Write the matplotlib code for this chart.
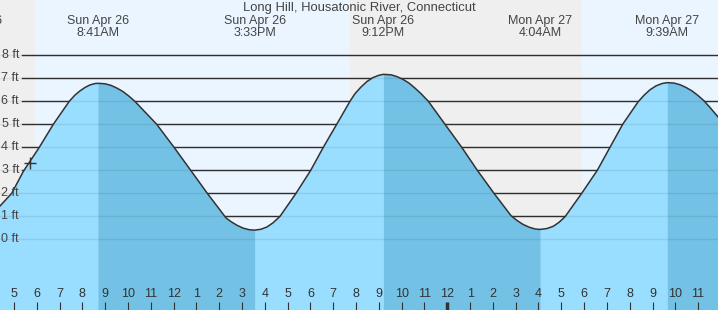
import numpy as np
import matplotlib
matplotlib.use("Agg")
import matplotlib.pyplot as plt

plt.rcParams['font.family'] = ['Liberation Sans', 'DejaVu Sans']

# hours after Sun Apr 26 00:00 and tide height (ft)
hours = [4.385, 4.899, 5.407, 6.109, 6.723, 7.424, 7.674, 7.894, 8.113, 8.332, 8.552,
         8.683, 8.990, 9.253, 9.516, 9.779, 10.043, 10.306, 11.257, 12.016, 12.748,
         13.476, 14.297, 14.516, 14.779, 15.042, 15.305, 15.55, 15.833, 16.096, 16.359,
         16.665, 17.366, 18.011, 18.563, 19.151, 19.734, 19.953, 20.217, 20.480, 20.743,
         21.006, 21.20, 21.532, 21.795, 22.058, 22.322, 22.585, 22.848, 23.168, 23.900,
         24.633, 25.317, 26.049, 26.795, 27.058, 27.321, 27.585, 27.848, 28.067, 28.371,
         28.654, 28.900, 29.163, 29.895, 30.579, 31.136, 31.693, 32.364, 32.627, 32.891,
         33.154, 33.417, 33.65, 33.943, 34.206, 34.469, 34.732, 34.995, 35.258, 35.521,
         35.872]
height = [1.45, 2.0, 2.95, 4.0, 5.0, 6.0, 6.27, 6.45, 6.60, 6.71, 6.77,
          6.78, 6.76, 6.69, 6.57, 6.42, 6.22, 5.99, 5.0, 4.0, 3.0,
          2.0, 0.93, 0.77, 0.61, 0.49, 0.42, 0.40, 0.44, 0.54, 0.72,
          1.0, 2.0, 3.0, 4.0, 5.0, 6.0, 6.33, 6.62, 6.86, 7.03,
          7.13, 7.17, 7.15, 7.07, 6.95, 6.79, 6.57, 6.33, 6.0, 5.0,
          4.0, 3.0, 2.0, 1.03, 0.82, 0.65, 0.53, 0.45, 0.43, 0.47,
          0.57, 0.74, 0.98, 2.0, 3.0, 4.0, 5.0, 5.97, 6.26, 6.50,
          6.67, 6.77, 6.81, 6.79, 6.72, 6.60, 6.45, 6.25, 6.02, 5.73,
          5.32]

# high / low tide events
event_hours = [3.13, 8.68, 15.55, 21.20, 28.07, 33.65]
event_days = ["Sun Apr 26", "Sun Apr 26", "Sun Apr 26", "Sun Apr 26", "Mon Apr 27", "Mon Apr 27"]
event_times = ["3:08AM", "8:41AM", "3:33PM", "9:12PM", "4:04AM", "9:39AM"]

# falling tide (high -> low) bands
ebb_start = [8.683, 21.20, 33.65]
ebb_end = [15.55, 28.067, 36.0]

# daylight
sunrise = [5.92, 29.91]
sunset = [19.74, 36.0]

now_hour = 5.70
now_height = 3.33

title = "Long Hill, Housatonic River, Connecticut"
ft_levels = [0, 1, 2, 3, 4, 5, 6, 7, 8]
tick_hours = list(range(4, 37))

x0, x1 = 4.385, 35.872
y0, y1 = -3.07, 10.40

fig = plt.figure(figsize=(7.18, 3.10), dpi=100)
ax = fig.add_axes([0, 0, 1, 1])
ax.set_facecolor('#efefef')
ax.set_axisbelow(False)
for s in ax.spines.values():
    s.set_visible(False)

# day / night background
for a, b in zip(sunrise, sunset):
    ax.axvspan(a, b, color='#ebf5ff', lw=0, zorder=0)

# grid lines
for lv in ft_levels:
    ax.axhline(lv, xmin=22 / 718, color='#333333', lw=1.0, zorder=0.5)

t = np.array(hours)
h = np.array(height)
ax.fill_between(t, y0 - 1, h, color='#99ddff', lw=0, zorder=1)
for a, b in zip(ebb_start, ebb_end):
    m = (t >= a) & (t <= b)
    ax.fill_between(t[m], y0 - 1, h[m], color='#73c2e6', lw=0, zorder=1)
for lv in ft_levels:
    ax.axhline(lv, color='black', alpha=0.08, lw=1.0, zorder=1.2)
ax.plot(t, h, color='#333333', lw=1.1, zorder=1.4)
ax.plot([now_hour], [now_height], marker='+', ms=8, mew=1, color='#333333', zorder=1.5)

# y labels
for lv in ft_levels:
    ax.text(19 / 718, lv, f"{lv} ft", transform=ax.get_yaxis_transform(),
            ha='right', va='center', fontsize=9, color='#444444', zorder=6)

# top labels
trans = ax.get_xaxis_transform()
ax.text(0.5, 1 - 11 / 310, title, transform=ax.transAxes, ha='center', va='baseline',
        fontsize=9.4, color='#444444')
for eh, d, tm in zip(event_hours, event_days, event_times):
    ax.text(eh, 1 - 24 / 310, d, transform=trans, ha='center', va='baseline',
            fontsize=9, color='#444444', clip_on=False)
    ax.text(eh, 1 - 36.5 / 310, tm, transform=trans, ha='center', va='baseline',
            fontsize=9, color='#444444', clip_on=False)

# hour ticks
ax.set_xticks(tick_hours)
ax.set_xticklabels([str((hh - 1) % 12 + 1) for hh in tick_hours])
ax.tick_params(axis='x', direction='in', length=6, width=0.8, color='#333333',
               pad=-16, labelsize=9, labelcolor='#333333')
ax.tick_params(axis='y', left=False, labelleft=False)
for tk, hh in zip(ax.xaxis.get_major_ticks(), tick_hours):
    if hh % 24 == 0:
        tk.tick1line.set_markeredgewidth(2.5)

ax.set_xlim(x0, x1)
ax.set_ylim(y0, y1)

fig.savefig('out.png', dpi=100)
